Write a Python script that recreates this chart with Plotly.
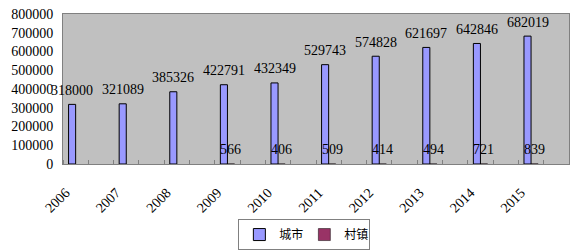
import plotly.graph_objects as go

years = ["2006", "2007", "2008", "2009", "2010", "2011", "2012", "2013", "2014", "2015"]
city = [318000, 321089, 385326, 422791, 432349, 529743, 574828, 621697, 642846, 682019]
town = [None, None, None, 566, 406, 509, 414, 494, 721, 839]
series_names = ["城市", "村镇"]
colors = ["#9999FF", "#993366"]

BW = 0.28
xs = [2 * i for i in range(len(years))]

fig = go.Figure()
fig.add_trace(go.Bar(x=xs, y=city, name=series_names[0], width=BW, offset=-BW,
                     marker=dict(color=colors[0], line=dict(color="#000000", width=1))))
fig.add_trace(go.Bar(x=xs, y=town, name=series_names[1],
                     width=BW, offset=0,
                     marker=dict(color=colors[1], line=dict(color="#000000", width=0.5))))

annos = []
for x, v in zip(xs, city):
    annos.append(dict(x=x - BW / 2, y=v, xref="x", yref="y", text=str(v), showarrow=False,
                      yshift=14, font=dict(family="Liberation Serif", size=14, color="#000")))
for x, v in zip(xs, town):
    if v is not None:
        annos.append(dict(x=x + BW / 2, y=v, xref="x", yref="y", text=str(v), showarrow=False,
                          yshift=14, font=dict(family="Liberation Serif", size=14, color="#000")))

# page has an 8px body margin, so the figure is drawn 8px in from the top-left corner
fig.update_layout(
    template="none",
    width=572, height=244,
    margin=dict(l=55, r=11, t=6, b=88, autoexpand=False),
    paper_bgcolor="white", plot_bgcolor="#C0C0C0",
    barmode="overlay",
    showlegend=True,
    legend=dict(orientation="h", x=0.477, xanchor="center", y=-0.367, yanchor="top",
                bordercolor="#808080", borderwidth=1, bgcolor="white",
                font=dict(family="Noto Sans CJK SC", size=12, color="#000"),
                itemwidth=30, entrywidth=20, tracegroupgap=0),
    annotations=annos,
    font=dict(family="Liberation Serif", size=14, color="#000"),
)
fig.update_xaxes(range=[-0.5, 19.5], tickmode="array", tickvals=xs, ticktext=years,
                 tickangle=-45, ticks="", showgrid=False, zeroline=False, automargin=False,
                 showline=True, linecolor="#808080", mirror=True, ticklabelstandoff=14,
                 ticklabelshift=-10, ticklabeloverflow="allow",
                 tickfont=dict(family="Liberation Serif", size=14),
                 minor=dict(tickmode="array", tickvals=[k - 0.5 for k in range(21)], ticks="inside",
                            ticklen=4, tickcolor="#808080", showgrid=False))
fig.update_yaxes(range=[0, 800000], dtick=100000, tickformat="d", ticks="", showgrid=False,
                 zeroline=False, showline=True, linecolor="#808080", mirror=True, automargin=False,
                 ticklabelstandoff=6, ticklabeloverflow="allow",
                 tickfont=dict(family="Liberation Serif", size=14))

fig.write_html("out.html")
